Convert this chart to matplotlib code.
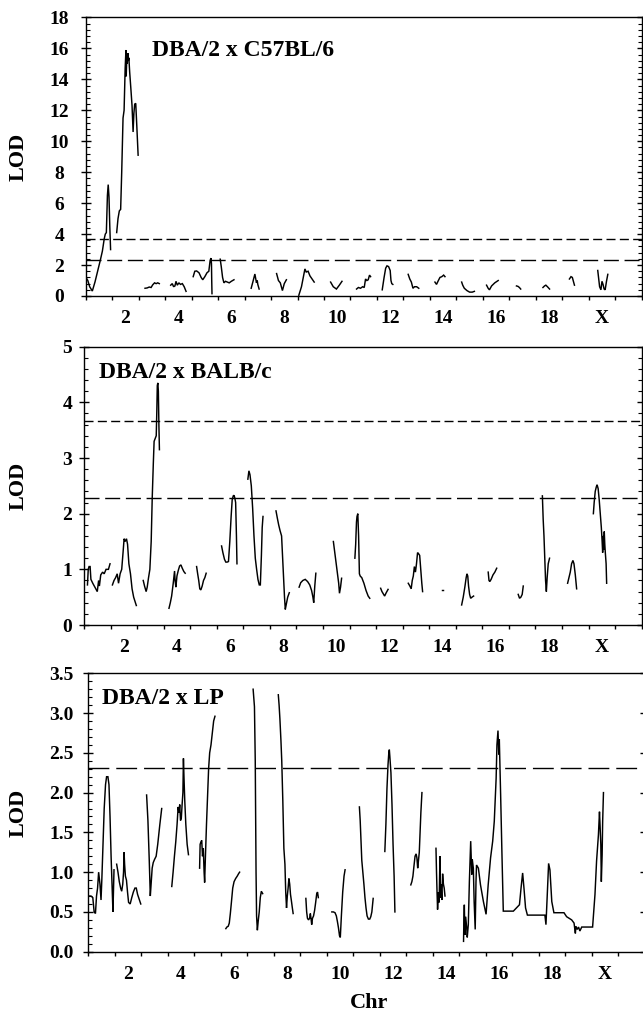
import matplotlib
matplotlib.use("Agg")
import matplotlib.pyplot as plt
from matplotlib.ticker import MultipleLocator, FixedLocator

plt.rcParams['font.family'] = ['Liberation Serif', 'DejaVu Serif']
plt.rcParams['font.weight'] = 'bold'

# ---------------- data ----------------
chr_labels = ['2', '4', '6', '8', '10', '12', '14', '16', '18', 'X']
chr_label_pos = [1.5, 3.5, 5.5, 7.5, 9.5, 11.5, 13.5, 15.5, 17.5, 19.5]

# Panel 1: DBA/2 x C57BL/6 (one segment per chromosome)
c57_pos = [
    [0.01, 0.08, 0.15, 0.25, 0.35, 0.45, 0.55, 0.63, 0.7, 0.74, 0.78, 0.82, 0.85, 0.88, 0.91, 0.94],
    [1.17, 1.22, 1.27, 1.32, 1.36, 1.41, 1.45, 1.49, 1.52, 1.53, 1.55, 1.57, 1.59, 1.61, 1.63, 1.66, 1.71, 1.75, 1.79, 1.82, 1.85, 1.89, 1.93, 1.98],
    [2.24, 2.32, 2.4, 2.47, 2.53, 2.6, 2.66, 2.72, 2.78],
    [3.21, 3.27, 3.32, 3.37, 3.41, 3.46, 3.52, 3.58, 3.65, 3.72, 3.79],
    [4.06, 4.12, 4.19, 4.28, 4.36, 4.42, 4.5, 4.58, 4.65, 4.7, 4.73, 4.75, 4.76, 4.77],
    [5.08, 5.12, 5.17, 5.22, 5.28, 5.35, 5.42, 5.5, 5.6],
    [6.25, 6.32, 6.39, 6.45, 6.48, 6.5, 6.55],
    [7.21, 7.28, 7.35, 7.43, 7.5, 7.58],
    [8.05, 8.15, 8.28, 8.33, 8.4, 8.47, 8.55, 8.63],
    [9.25, 9.35, 9.47, 9.58, 9.68],
    [10.23, 10.3, 10.38, 10.46, 10.52, 10.57, 10.62, 10.67, 10.72, 10.76],
    [11.2, 11.27, 11.33, 11.38, 11.44, 11.5, 11.53, 11.56, 11.6],
    [12.18, 12.24, 12.3, 12.36, 12.42, 12.5, 12.58],
    [13.19, 13.25, 13.32, 13.38, 13.45, 13.52, 13.57],
    [14.2, 14.24, 14.3, 14.4, 14.5, 14.6, 14.68],
    [15.14, 15.2, 15.25, 15.33, 15.45, 15.58],
    [16.27, 16.33, 16.38, 16.43],
    [17.27, 17.33, 17.38, 17.44, 17.52],
    [18.27, 18.33, 18.38, 18.42, 18.46],
    [19.34, 19.37, 19.41, 19.46, 19.5, 19.54, 19.58, 19.62, 19.67, 19.72],
]
c57_lod = [
    [1.2, 1.0, 0.6, 0.32, 0.9, 1.6, 2.3, 2.9, 3.7, 4.0, 4.1, 6.5, 7.2, 6.4, 4.5, 3.0],
    [4.1, 5.0, 5.5, 5.6, 8.0, 11.5, 12.0, 14.7, 15.9, 14.2, 15.3, 15.0, 15.7, 15.2, 15.4, 14.5, 13.3, 12.3, 10.6, 11.8, 12.4, 12.45, 11.0, 9.1],
    [0.5, 0.52, 0.58, 0.55, 0.72, 0.85, 0.8, 0.85, 0.8],
    [0.7, 0.8, 0.6, 0.65, 0.95, 0.7, 0.85, 0.75, 0.8, 0.6, 0.3],
    [1.25, 1.6, 1.62, 1.5, 1.2, 1.05, 1.25, 1.5, 1.6, 2.3, 2.45, 2.1, 1.0, 0.15],
    [2.38, 1.9, 1.2, 0.85, 0.95, 0.9, 0.85, 0.95, 1.05],
    [0.5, 0.95, 1.42, 0.85, 1.0, 0.75, 0.45],
    [1.45, 1.0, 0.85, 0.35, 0.8, 1.05],
    [0.05, 0.6, 1.75, 1.55, 1.6, 1.3, 1.1, 0.9],
    [0.9, 0.6, 0.45, 0.7, 0.95],
    [0.45, 0.55, 0.5, 0.6, 0.55, 1.1, 1.0, 1.05, 1.35, 1.25],
    [0.4, 1.2, 1.8, 1.95, 1.9, 1.65, 1.0, 0.8, 0.75],
    [1.4, 1.1, 0.9, 0.5, 0.6, 0.6, 0.5],
    [0.9, 0.75, 1.0, 1.2, 1.25, 1.35, 1.25],
    [0.9, 0.7, 0.5, 0.35, 0.25, 0.25, 0.3],
    [0.7, 0.5, 0.4, 0.65, 0.85, 1.0],
    [0.65, 0.62, 0.55, 0.45],
    [0.55, 0.65, 0.7, 0.6, 0.45],
    [1.1, 1.25, 1.2, 0.95, 0.7],
    [1.65, 1.2, 0.6, 0.4, 0.95, 0.75, 0.45, 0.4, 0.95, 1.4],
]
c57_thresholds = [3.7, 2.35]

# Panel 2: DBA/2 x BALB/c
balb_pos = [
    [0.13, 0.16, 0.19, 0.23, 0.26, 0.33, 0.41, 0.5, 0.55, 0.58, 0.63, 0.7, 0.76, 0.83, 0.92, 0.98],
    [1.07, 1.13, 1.19, 1.25, 1.3, 1.36, 1.42, 1.47, 1.51, 1.55, 1.6, 1.64, 1.69, 1.75, 1.81, 1.87, 1.97],
    [2.23, 2.28, 2.34, 2.38, 2.43, 2.48, 2.53, 2.57, 2.61, 2.64, 2.68, 2.72, 2.74, 2.76, 2.78, 2.8, 2.82, 2.84],
    [3.2, 3.25, 3.3, 3.36, 3.41, 3.43, 3.46, 3.5, 3.55, 3.6, 3.65, 3.7, 3.76, 3.81],
    [4.24, 4.28, 4.32, 4.36, 4.4, 4.45, 4.5, 4.55, 4.6],
    [5.18, 5.23, 5.29, 5.34, 5.39, 5.44, 5.49, 5.54, 5.58, 5.62, 5.65, 5.68, 5.71, 5.74, 5.76],
    [6.17, 6.21, 6.25, 6.3, 6.35, 6.4, 6.45, 6.5, 6.55, 6.6, 6.64, 6.68, 6.71, 6.74],
    [7.23, 7.28, 7.33, 7.38, 7.44, 7.48, 7.52, 7.55, 7.58, 7.62, 7.67, 7.73],
    [8.1, 8.16, 8.24, 8.33, 8.42, 8.5, 8.57, 8.62, 8.65, 8.69, 8.73],
    [9.39, 9.43, 9.47, 9.51, 9.55, 9.59, 9.62, 9.66, 9.7],
    [10.2, 10.23, 10.26, 10.28, 10.31, 10.34, 10.37, 10.4, 10.46, 10.54, 10.62, 10.7, 10.76],
    [11.17, 11.22, 11.27, 11.32, 11.38, 11.45],
    [12.21, 12.27, 12.32, 12.36, 12.4, 12.44, 12.48, 12.52, 12.56, 12.6, 12.64, 12.68, 12.72, 12.75],
    [13.47, 13.52],
    [14.22, 14.28, 14.34, 14.39, 14.42, 14.45, 14.48, 14.52, 14.56, 14.61, 14.67],
    [15.22, 15.25, 15.28, 15.33, 15.4, 15.47, 15.54],
    [16.35, 16.4, 16.45, 16.5, 16.54],
    [17.26, 17.29, 17.32, 17.35, 17.38, 17.41, 17.44, 17.48, 17.53],
    [18.21, 18.26, 18.31, 18.36, 18.41, 18.45, 18.5, 18.55],
    [19.18, 19.21, 19.25, 19.29, 19.32, 19.36, 19.4, 19.44, 19.48, 19.51, 19.53, 19.55, 19.57, 19.59, 19.61, 19.63, 19.66, 19.68],
]
balb_lod = [
    [0.72, 1.0, 1.05, 1.05, 0.82, 0.75, 0.68, 0.6, 0.8, 0.7, 0.9, 0.95, 0.92, 1.0, 1.0, 1.1],
    [0.72, 0.8, 0.85, 0.92, 0.75, 0.92, 1.0, 1.3, 1.55, 1.5, 1.55, 1.45, 1.1, 0.92, 0.65, 0.5, 0.35],
    [0.8, 0.7, 0.6, 0.68, 0.85, 1.0, 1.5, 2.3, 2.9, 3.3, 3.35, 3.4, 3.8, 4.3, 4.35, 4.2, 3.6, 3.15],
    [0.3, 0.4, 0.52, 0.75, 0.97, 0.8, 0.68, 0.88, 0.98, 1.06, 1.08, 1.02, 0.96, 0.93],
    [1.05, 0.92, 0.8, 0.65, 0.63, 0.7, 0.8, 0.85, 0.93],
    [1.42, 1.3, 1.18, 1.13, 1.13, 1.14, 1.5, 1.95, 2.25, 2.32, 2.33, 2.28, 2.2, 1.6, 1.1],
    [2.62, 2.77, 2.7, 2.5, 2.1, 1.6, 1.2, 1.0, 0.82, 0.72, 0.72, 1.25, 1.75, 1.95],
    [2.05, 1.92, 1.8, 1.7, 1.6, 1.2, 0.8, 0.5, 0.28, 0.38, 0.5, 0.58],
    [0.68, 0.76, 0.8, 0.82, 0.78, 0.72, 0.62, 0.5, 0.4, 0.7, 0.93],
    [1.5, 1.35, 1.2, 1.05, 0.9, 0.75, 0.57, 0.68, 0.84],
    [1.2, 1.45, 1.85, 1.95, 2.0, 1.6, 0.92, 0.88, 0.85, 0.75, 0.62, 0.52, 0.48],
    [0.66, 0.6, 0.56, 0.52, 0.58, 0.64],
    [0.75, 0.7, 0.65, 0.8, 0.88, 1.05, 0.95, 1.1, 1.3, 1.28, 1.25, 1.0, 0.75, 0.6],
    [0.62, 0.62],
    [0.36, 0.5, 0.68, 0.85, 0.92, 0.88, 0.7, 0.55, 0.48, 0.5, 0.52],
    [0.95, 0.8, 0.78, 0.82, 0.9, 0.95, 1.02],
    [0.55, 0.48, 0.5, 0.55, 0.7],
    [2.32, 1.9, 1.6, 1.2, 0.8, 0.6, 0.85, 1.1, 1.2],
    [0.75, 0.85, 0.95, 1.1, 1.16, 1.1, 0.9, 0.65],
    [2.0, 2.2, 2.4, 2.48, 2.52, 2.45, 2.25, 2.0, 1.75, 1.5, 1.3, 1.6, 1.35, 1.68, 1.45, 1.3, 1.1, 0.75],
]
balb_thresholds = [3.67, 2.29]

# Panel 3: DBA/2 x LP (chromosomes 15..X form one continuous trace)
lp_pos = [
    [0.02, 0.1, 0.17, 0.22, 0.27, 0.31, 0.35, 0.39, 0.44, 0.48, 0.51, 0.55, 0.6, 0.65, 0.69, 0.74, 0.78, 0.82, 0.86, 0.9, 0.93, 0.97],
    [1.07, 1.12, 1.17, 1.22, 1.26, 1.3, 1.33, 1.35, 1.37, 1.4, 1.44, 1.48, 1.52, 1.58, 1.64, 1.7, 1.76, 1.81, 1.86, 1.92, 1.98],
    [2.2, 2.25, 2.3, 2.34, 2.37, 2.41, 2.45, 2.5, 2.56, 2.62, 2.7, 2.77],
    [3.15, 3.2, 3.25, 3.3, 3.35, 3.39, 3.42, 3.45, 3.48, 3.51, 3.54, 3.57, 3.59, 3.61, 3.64, 3.68, 3.73, 3.78],
    [4.2, 4.22, 4.25, 4.28, 4.31, 4.34, 4.37, 4.39, 4.42, 4.46, 4.5, 4.54, 4.58, 4.63, 4.68, 4.73, 4.78],
    [5.19, 5.23, 5.28, 5.32, 5.36, 5.4, 5.45, 5.5, 5.56, 5.62, 5.67, 5.71],
    [6.22, 6.27, 6.3, 6.33, 6.35, 6.38, 6.41, 6.45, 6.49, 6.53, 6.58],
    [7.17, 7.2, 7.23, 7.27, 7.3, 7.34, 7.38, 7.42, 7.45, 7.48, 7.51, 7.54, 7.57, 7.6, 7.63, 7.66, 7.7, 7.73],
    [8.21, 8.24, 8.27, 8.31, 8.35, 8.38, 8.41, 8.43, 8.46, 8.5, 8.54, 8.58, 8.62, 8.65, 8.68],
    [9.19, 9.25, 9.31, 9.36, 9.4, 9.44, 9.48, 9.51, 9.55, 9.6, 9.65, 9.69],
    [10.23, 10.26, 10.29, 10.32, 10.36, 10.4, 10.44, 10.48, 10.52, 10.57, 10.62, 10.66, 10.7, 10.75],
    [11.19, 11.23, 11.27, 11.31, 11.34, 11.36, 11.38, 11.42, 11.46, 11.5, 11.54, 11.57],
    [12.17, 12.21, 12.25, 12.29, 12.33, 12.37, 12.4, 12.43, 12.46, 12.49, 12.52, 12.55, 12.59],
    [13.12, 13.14, 13.16, 13.18, 13.21, 13.24, 13.27, 13.29, 13.31, 13.34, 13.37, 13.4, 13.43, 13.46],
    [14.16, 14.17, 14.19, 14.21, 14.24, 14.28, 14.3, 14.34, 14.38, 14.43, 14.47, 14.49, 14.53, 14.56,
     14.6, 14.63, 14.65, 14.72, 14.8, 14.91, 15.01, 15.09, 15.18, 15.26, 15.32, 15.39, 15.42, 15.46,
     15.49, 15.51, 15.56, 15.61, 15.66, 16.04, 16.27, 16.33, 16.39, 16.44, 16.5, 16.57, 17.23, 17.27,
     17.32, 17.37, 17.42, 17.49, 17.57, 17.95, 18.05, 18.24, 18.33, 18.38, 18.4, 18.45, 18.5, 18.55,
     18.62, 19.03, 19.12, 19.18, 19.25, 19.29, 19.31, 19.34, 19.36, 19.39, 19.41, 19.44],
]
lp_lod = [
    [0.7, 0.7, 0.68, 0.5, 0.48, 0.7, 0.8, 1.0, 0.85, 0.65, 0.9, 1.3, 1.8, 2.1, 2.2, 2.2, 2.1, 1.7, 1.2, 0.8, 0.5, 1.03],
    [1.1, 1.0, 0.88, 0.8, 0.76, 0.85, 1.0, 1.25, 1.1, 0.95, 0.9, 0.75, 0.62, 0.6, 0.68, 0.75, 0.8, 0.8, 0.72, 0.66, 0.6],
    [1.97, 1.65, 1.15, 0.7, 0.85, 1.05, 1.12, 1.16, 1.2, 1.35, 1.6, 1.8],
    [0.82, 1.0, 1.2, 1.38, 1.6, 1.82, 1.75, 1.85, 1.65, 1.68, 1.85, 2.0, 2.43, 2.2, 1.9, 1.6, 1.35, 1.22],
    [1.05, 1.35, 1.38, 1.4, 1.2, 1.3, 1.0, 0.87, 1.2, 1.6, 1.95, 2.3, 2.5, 2.6, 2.75, 2.9, 2.96],
    [0.29, 0.31, 0.32, 0.36, 0.48, 0.62, 0.8, 0.88, 0.92, 0.95, 0.98, 1.0],
    [3.3, 3.08, 2.4, 1.0, 0.45, 0.27, 0.38, 0.5, 0.68, 0.76, 0.73],
    [3.23, 3.1, 2.93, 2.65, 2.4, 1.9, 1.3, 1.1, 0.75, 0.55, 0.7, 0.8, 0.92, 0.85, 0.72, 0.65, 0.55, 0.48],
    [0.67, 0.5, 0.42, 0.4, 0.42, 0.48, 0.4, 0.34, 0.42, 0.45, 0.52, 0.62, 0.73, 0.75, 0.68],
    [0.5, 0.5, 0.49, 0.45, 0.38, 0.3, 0.2, 0.18, 0.45, 0.75, 0.95, 1.03],
    [1.82, 1.65, 1.4, 1.15, 1.0, 0.85, 0.68, 0.55, 0.45, 0.41, 0.41, 0.44, 0.5, 0.67],
    [1.26, 1.6, 2.05, 2.35, 2.5, 2.54, 2.45, 2.25, 1.85, 1.35, 0.95, 0.5],
    [0.84, 0.88, 0.95, 1.08, 1.2, 1.23, 1.18, 1.05, 1.15, 1.25, 1.5, 1.75, 2.0],
    [1.3, 1.0, 0.75, 0.53, 0.75, 0.62, 1.2, 0.68, 0.85, 0.65, 0.98, 0.85, 0.8, 0.7],
    [0.13, 0.34, 0.59, 0.21, 0.44, 0.3, 0.18, 0.34, 0.88, 1.39, 0.97, 1.16, 1.05, 0.63,
     0.28, 0.88, 1.09, 1.05, 0.84, 0.63, 0.47, 0.84, 1.18, 1.39, 1.64, 2.18, 2.6, 2.78,
     2.48, 2.67, 1.97, 1.22, 0.51, 0.51, 0.59, 0.8, 0.99, 0.8, 0.55, 0.46, 0.46, 0.34,
     0.72, 1.11, 1.03, 0.63, 0.49, 0.49, 0.44, 0.4, 0.36, 0.23, 0.32, 0.28, 0.31, 0.26,
     0.31, 0.31, 0.72, 1.14, 1.47, 1.76, 1.6, 1.35, 0.88, 1.22, 1.64, 2.0],
]
lp_thresholds = [2.31]

# ---------------- figure ----------------
W, H = 643, 1014
fig = plt.figure(figsize=(W / 100, H / 100), dpi=100)


def make_axes(left, right, top, bottom):
    return fig.add_axes([left / W, 1 - bottom / H, (right - left) / W, (bottom - top) / H])


panels = [
    dict(box=(85.7, 641.7, 17.5, 296.0), pos=c57_pos, lod=c57_lod, ymax=18, major=2, minor=0.4,
         thr=c57_thresholds, dashes=[(6.5, 3.1), (10.8, 4.1)], title='DBA/2 x C57BL/6',
         title_xy=(0.119, 0.883), fmt='{:.0f}', ypad=15.6, labx=-0.102, right_minor=True),
    dict(box=(84.0, 641.7, 346.7, 625.0), pos=balb_pos, lod=balb_lod, ymax=5, major=1, minor=0.2,
         thr=balb_thresholds, dashes=[(6.5, 3.1), (10.8, 4.1)], title='DBA/2 x BALB/c',
         title_xy=(0.027, 0.909), fmt='{:.0f}', ypad=8.6, labx=-0.099, right_minor=True),
    dict(box=(88.3, 644.8, 673.3, 951.7), pos=lp_pos, lod=lp_lod, ymax=3.5, major=0.5, minor=0.1,
         thr=lp_thresholds, dashes=[(15.0, 5.0)], title='DBA/2 x LP',
         title_xy=(0.024, 0.908), fmt='{:.1f}', ypad=15.9, labx=-0.107, right_minor=False),
]

for p in panels:
    ax = make_axes(*p['box'])
    for xs, ys in zip(p['pos'], p['lod']):
        ax.plot(xs, ys, color='black', lw=1.05, solid_joinstyle='miter')
    for t, d in zip(p['thr'], p['dashes']):
        ax.axhline(t, color='black', lw=1.0, dashes=d)
    ax.set_xlim(0, 21)
    ax.set_ylim(0, p['ymax'])
    for s in ax.spines.values():
        s.set_linewidth(1.0)

    # x axis: boundaries as major ticks, chromosome names as minor tick labels
    ax.xaxis.set_major_locator(FixedLocator(list(range(22))))
    ax.xaxis.set_minor_locator(FixedLocator(chr_label_pos))
    ax.set_xticklabels([''] * 22)
    ax.set_xticklabels(chr_labels, minor=True)
    ax.tick_params(axis='x', which='major', direction='out', length=3.2, width=1.0, top=False)
    ax.tick_params(axis='x', which='minor', length=0, pad=10, labelsize=14, top=False)

    # y axis
    ax.yaxis.set_major_locator(MultipleLocator(p['major']))
    ax.yaxis.set_minor_locator(MultipleLocator(p['minor']))
    ticks = [i * p['major'] for i in range(int(round(p['ymax'] / p['major'])) + 1)]
    ax.set_yticks(ticks)
    ax.set_yticklabels([p['fmt'].format(v) for v in ticks])
    ax.tick_params(axis='y', which='major', direction='inout', length=6.5, width=1.0,
                   right=True, pad=p['ypad'], labelsize=14)
    ax.tick_params(axis='y', which='minor', direction='in', length=3.0, width=0.8,
                   right=p['right_minor'])
    for lab in ax.get_yticklabels():
        lab.set_horizontalalignment('center')

    ax.set_ylabel('LOD', fontsize=16, fontweight='bold')
    ax.yaxis.set_label_coords(p['labx'], 0.5)
    ax.text(p['title_xy'][0], p['title_xy'][1], p['title'], transform=ax.transAxes,
            ha='left', va='center', fontsize=17, fontweight='bold')

fig.text(369 / W, (H - 1008) / H, 'Chr', ha='center', va='baseline', fontsize=16, fontweight='bold')

fig.savefig('out.png', dpi=100)
